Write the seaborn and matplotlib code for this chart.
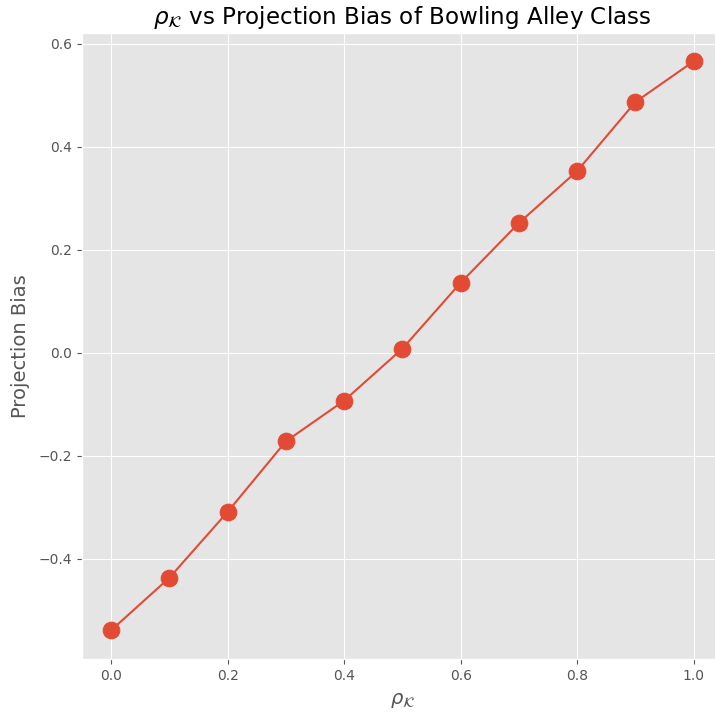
import matplotlib
matplotlib.use("Agg")
import matplotlib.pyplot as plt
import seaborn as sns
import pandas as pd

rho = [0.0, 0.1, 0.2, 0.3, 0.4, 0.5, 0.6, 0.7, 0.8, 0.9, 1.0]
bias = [-0.539, -0.437, -0.309, -0.172, -0.093, 0.008, 0.136, 0.252, 0.353, 0.487, 0.566]

plt.style.use("ggplot")
df = pd.DataFrame({"rho": rho, "bias": bias})

fig, ax = plt.subplots(figsize=(7.15, 7.13), dpi=100)
sns.lineplot(data=df, x="rho", y="bias", marker="o", markersize=12,
             color="#E24A33", markeredgecolor="#E24A33", linewidth=1.5, ax=ax)
ax.set_title(r"$\rho_\mathcal{K}$ vs Projection Bias of Bowling Alley Class", fontsize=16.6)
ax.set_xlabel(r"$\rho_\mathcal{K}$", fontsize=14, labelpad=6)
ax.set_ylabel("Projection Bias", fontsize=14, labelpad=6)
ax.set_yticks([-0.4, -0.2, 0.0, 0.2, 0.4, 0.6])
fig.subplots_adjust(left=0.1146, right=1.011, top=0.954, bottom=0.076)
fig.savefig("out.png", dpi=100)
